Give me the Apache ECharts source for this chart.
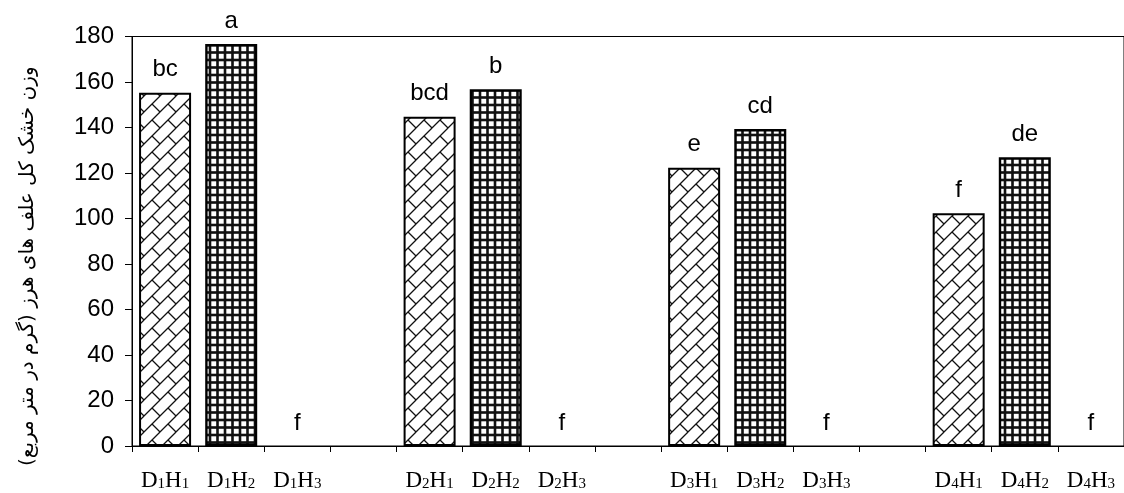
<!DOCTYPE html>
<html>
<head>
<meta charset="utf-8">
<script src="https://cdn.jsdelivr.net/npm/echarts@6/dist/echarts.min.js"></script>
<style>
  html, body { margin: 0; padding: 0; background: #fff; }
  #chart { width: 1124px; height: 493px; }
</style>
</head>
<body>
<div id="chart"></div>
<script>
// treatments on the x axis, empty slots separate the D groups
const categories = ['D1H1', 'D1H2', 'D1H3', 'gap1', 'D2H1', 'D2H2', 'D2H3', 'gap2',
                    'D3H1', 'D3H2', 'D3H3', 'gap3', 'D4H1', 'D4H2', 'D4H3'];
// total weed dry weight (g per m2)
const dryWeight = [155.3, 176.7, 0, null, 144.7, 156.8, 0, null,
                   122.3, 139.3, 0, null, 102.3, 126.9, 0];
// mean comparison letters
const letters = ['bc', 'a', 'f', '', 'bcd', 'b', 'f', '', 'e', 'cd', 'f', '', 'f', 'de', 'f'];
const yTicks = [0, 20, 40, 60, 80, 100, 120, 140, 160, 180];

// diagonal brick fill for H1
function brickPattern() {
  const s = 16;
  const c = document.createElement('canvas');
  c.width = s; c.height = s;
  const g = c.getContext('2d');
  g.fillStyle = '#fff';
  g.fillRect(0, 0, s, s);
  g.strokeStyle = '#111';
  g.lineWidth = 1.3;
  for (let dx = -s; dx <= s; dx += s) {
    for (let dy = -s; dy <= s; dy += s) {
      g.beginPath();
      g.moveTo(s + dx, 0 + dy);
      g.lineTo(0 + dx, s + dy);
      g.moveTo(s / 2 + dx, s / 2 + dy);
      g.lineTo(s + dx, s + dy);
      g.stroke();
    }
  }
  return c;
}

// small grid fill for H2
function gridPattern() {
  const s = 15, p = 7.5, w = 2.6;
  const c = document.createElement('canvas');
  c.width = s; c.height = s;
  const g = c.getContext('2d');
  g.fillStyle = '#fff';
  g.fillRect(0, 0, s, s);
  g.fillStyle = '#111';
  for (let k = 0; k <= 2; k++) {
    g.fillRect(k * p - w / 2, 0, w, s);
    g.fillRect(0, k * p - w / 2, s, w);
  }
  return c;
}

const fills = {
  H1: { image: brickPattern(), repeat: 'repeat' },
  H2: { image: gridPattern(), repeat: 'repeat' }
};

const barData = dryWeight.map((v, i) => {
  const lvl = categories[i].slice(2);
  if (v === null) return { value: '-' };
  if (lvl === 'H3') {
    return { value: v, itemStyle: { color: 'transparent', borderWidth: 0 } };
  }
  return {
    value: v,
    itemStyle: { color: fills[lvl], borderColor: '#000', borderWidth: lvl === 'H2' ? 2.4 : 2 }
  };
});

const chart = echarts.init(document.getElementById('chart'));
const option = {
  backgroundColor: '#fff',
  animation: false,
  grid: {
    left: 132,
    top: 36.5,
    bottom: 47,
    right: -5.5,
    show: true,
    borderColor: '#000',
    borderWidth: 1,
    backgroundColor: 'transparent'
  },
  xAxis: {
    type: 'category',
    data: categories,
    axisLine: { lineStyle: { color: '#000', width: 1 } },
    axisTick: { show: true, length: 6, lineStyle: { color: '#000' } },
    axisLabel: {
      margin: 23,
      color: '#000',
      fontFamily: 'Liberation Serif',
      fontSize: 23,
      interval: 0,
      formatter: (v) => v.startsWith('D') ? 'D{s|' + v[1] + '}H{s|' + v[3] + '}' : '',
      rich: {
        s: { fontFamily: 'Liberation Serif', fontSize: 15, lineHeight: 12, verticalAlign: 'bottom', color: '#000' }
      }
    }
  },
  yAxis: {
    type: 'value',
    min: yTicks[0],
    max: yTicks[yTicks.length - 1],
    interval: yTicks[1] - yTicks[0],
    name: 'وزن خشک کل علف های هرز (گرم در متر مربع)\u200F',
    nameLocation: 'middle',
    nameGap: 94,
    nameTextStyle: {
      fontFamily: 'DejaVu Sans',
      fontSize: 20,
      color: '#000',
      padding: [0, 50, 0, 0]
    },
    axisLine: { show: true, lineStyle: { color: '#000', width: 1 } },
    axisTick: { show: true, length: 7, lineStyle: { color: '#000' } },
    splitLine: { show: false },
    axisLabel: {
      margin: 18,
      color: '#000',
      fontFamily: 'Liberation Sans',
      fontSize: 24
    }
  },
  series: [
    {
      type: 'bar',
      data: barData,
      barWidth: 52,
      label: {
        show: true,
        position: 'top',
        distance: 11,
        color: '#000',
        fontFamily: 'Liberation Sans',
        fontSize: 24,
        formatter: (p) => letters[p.dataIndex]
      }
    }
  ]
};
chart.setOption(option);
</script>
</body>
</html>
